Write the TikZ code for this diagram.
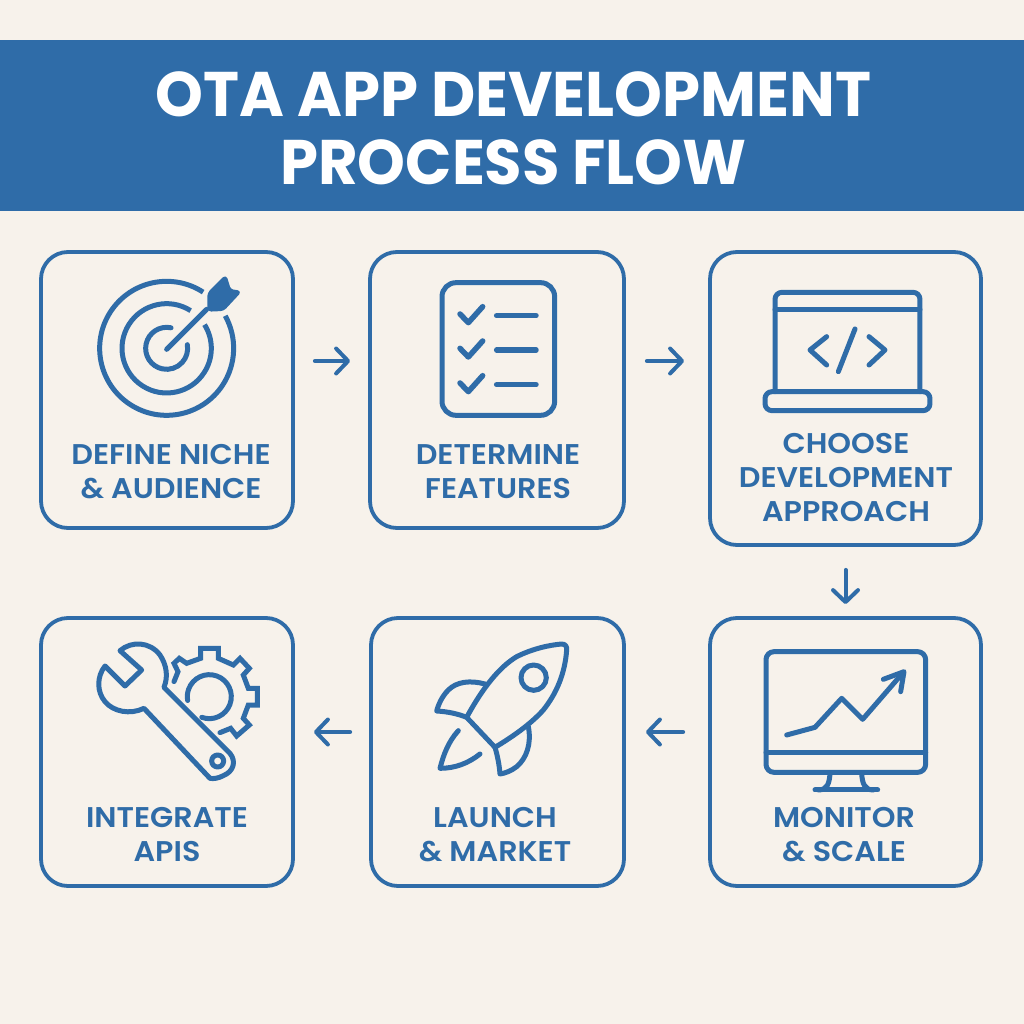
\documentclass[tikz,border=0pt]{standalone}
\usepackage{fontspec}
\setmainfont{Poppins}
\newfontfamily\labelfont[FakeStretch=1.06]{Poppins SemiBold}
\newfontfamily\titlefont[FakeStretch=0.966]{Poppins}
\usetikzlibrary{arrows.meta}
\definecolor{bandblue}{HTML}{2F6CA8}
\definecolor{paper}{HTML}{F7F2EB}
\tikzset{
	stepbox/.style={draw=bandblue, line width=3.8pt, rounded corners=27pt, inner sep=0pt},
	steplabel/.style={text=bandblue, font=\fontsize{28.5}{34}\labelfont, align=center, inner sep=0pt},
	flowarrow/.style={draw=bandblue, line width=4pt, line cap=round, -{Straight Barb[length=12pt,width=25pt,line width=4pt,round]}},
	iconline/.style={draw=bandblue, line width=5pt, line cap=round, line join=round},
	iconzoom/.style={x=0.3333pt, y=-0.3333pt},
}
\begin{document}
\begin{tikzpicture}[x=1pt, y=-1pt]
	\useasboundingbox (0,0) rectangle (1024,1024);
	\fill[paper] (0,0) rectangle (1024,1024);
	\fill[bandblue] (0,40) rectangle (1024,211);
	\node (title) at (513.5,128) [text=white, font=\fontsize{63}{68}\titlefont\bfseries, align=center, inner sep=0pt] {OTA APP DEVELOPMENT\\PROCESS FLOW};

	% boxes
	\node (niche) at (167,390) [stepbox, minimum width=252pt, minimum height=276pt] {};
	\node (features) at (497,390) [stepbox, minimum width=254pt, minimum height=276pt] {};
	\node (approach) at (845.5,398.5) [stepbox, minimum width=271pt, minimum height=293pt] {};
	\node (monitor) at (845.5,752) [stepbox, minimum width=271pt, minimum height=268pt] {};
	\node (launch) at (497.5,752) [stepbox, minimum width=253pt, minimum height=268pt] {};
	\node (apis) at (167,752) [stepbox, minimum width=252pt, minimum height=268pt] {};

	% labels
	\node (nichetext) at (171,472) [steplabel] {DEFINE NICHE\\\& AUDIENCE};
	\node (featurestext) at (498,472) [steplabel] {DETERMINE\\FEATURES};
	\node (approachtext) at (846,478) [steplabel] {CHOOSE\\DEVELOPMENT\\APPROACH};
	\node (monitortext) at (844,835) [steplabel] {MONITOR\\\& SCALE};
	\node (launchtext) at (495,835) [steplabel] {LAUNCH\\\& MARKET};
	\node (apistext) at (167,835) [steplabel] {INTEGRATE\\APIS};

	% arrows
	\draw[flowarrow, shorten <=20pt, shorten >=18pt] ([yshift=29pt]niche.east) -- ([yshift=29pt]features.west);
	\draw[flowarrow, shorten <=21pt, shorten >=24pt] ([yshift=29pt]features.east) -- ([yshift=29pt]features.east -| approach.west);
	\draw[flowarrow, shorten <=23pt, shorten >=12pt] (approach.south) -- (monitor.north);
	\draw[flowarrow, shorten <=25pt, shorten >=20pt] ([yshift=20pt]monitor.west) -- ([yshift=20pt]launch.east);
	\draw[flowarrow, shorten <=19pt, shorten >=19pt] ([yshift=20pt]launch.west) -- ([yshift=20pt]apis.east);

	% target
	\begin{scope}[shift={(60,260)}, iconzoom]
		\draw[iconline, line cap=butt] (320,265) ++(-57:201) arc[start angle=-57, end angle=-389, radius=201];
		\draw[iconline, line cap=butt] (320,265) ++(-57.5:134) arc[start angle=-57.5, end angle=-392, radius=134];
		\draw[iconline] (320,265) ++(-78:63) arc[start angle=-78, end angle=-370, radius=63];
		\draw[iconline] (320,268) -- (440,148);
		\fill[bandblue, draw=bandblue, line width=2pt, line join=round, rounded corners=3pt] (445,100) -- (497,48) -- (510,90) -- (541,95) -- (490,150) -- (445,152) -- cycle;
	\end{scope}

	% checklist
	\begin{scope}[shift={(430,270)}, iconzoom]
		\draw[iconline, rounded corners=14pt] (36,38) rectangle (374,436);
		\foreach \rowy in {137,240,344}{
			\draw[iconline, line width=5.5pt] (90,\rowy-5) -- (115,\rowy+21) -- (158,\rowy-27);
			\draw[iconline, line width=5.5pt] (200,\rowy) -- (318,\rowy);
		}
	\end{scope}

	% laptop
	\begin{scope}[shift={(750,280)}, iconzoom]
		\draw[iconline, rounded corners=7pt] (75,335) -- (75,37) -- (510,37) -- (510,335);
		\draw[iconline] (75,90) -- (510,90);
		\draw[iconline, rounded corners=7pt] (45,335) -- (540,335) -- (540,392) -- (45,392) -- cycle;
		\draw[iconline] (230,170) -- (180,210) -- (230,255);
		\draw[iconline] (315,147) -- (265,275);
		\draw[iconline] (357,170) -- (405,210) -- (357,255);
	\end{scope}

	% monitor
	\begin{scope}[shift={(750,640)}, iconzoom]
		\draw[iconline, rounded corners=8pt] (48,35) rectangle (527,397);
		\draw[iconline] (48,337) -- (527,337);
		\draw[iconline] (110,285) -- (195,262) -- (275,175) -- (338,238) -- (460,97);
		\draw[iconline] (400,118) -- (462,95) -- (452,155);
		\draw[iconline] (240,400) .. controls (238,430) and (232,450) .. (205,450);
		\draw[iconline] (335,400) .. controls (337,430) and (343,450) .. (370,450);
		\draw[iconline] (195,450) -- (383,450);
	\end{scope}

	% rocket
	\begin{scope}[shift={(420,630)}, iconzoom]
		\draw[iconline] (225,352) -- (140,262) .. controls (190,170) and (240,110) .. (290,80) .. controls (340,55) and (390,45) .. (425,42) .. controls (437,42) and (441,50) .. (440,60) .. controls (435,130) and (410,190) .. (370,240) .. controls (330,285) and (270,325) .. (225,352);
		\draw[iconline] (341,143) circle[radius=38];
		\draw[iconline] (195,162) .. controls (150,150) and (110,155) .. (85,180) .. controls (65,200) and (55,225) .. (50,243) .. controls (85,245) and (115,252) .. (140,262);
		\draw[iconline] (325,290) .. controls (335,340) and (320,385) .. (290,410) .. controls (275,422) and (255,430) .. (240,432) .. controls (238,405) and (232,375) .. (225,352);
		\draw[iconline] (115,302) .. controls (85,335) and (70,375) .. (60,415) .. controls (105,415) and (145,400) .. (180,372);
	\end{scope}

	% wrench and gear
	\begin{scope}[shift={(70,630)}, iconzoom]
		\draw[iconline] (150,62) .. controls (185,32) and (240,35) .. (270,75) .. controls (290,105) and (295,140) .. (282,172) -- (480,370) .. controls (500,395) and (490,425) .. (460,437) .. controls (445,445) and (430,447) .. (420,445) -- (222,235) .. controls (180,255) and (130,245) .. (105,215) .. controls (80,185) and (80,140) .. (105,108) -- (165,168) -- (215,120) -- cycle;
		\draw[iconline] (443,393) circle[radius=18];
		\draw[iconline, line join=miter] (312,155) -- (324,125) -- (312,100) -- (328,85) -- (350,100) -- (392,85) -- (392,55) -- (445,55) -- (445,85) -- (490,105) -- (510,85) -- (538,115) -- (520,135) -- (535,175) -- (562,175) -- (562,225) -- (535,225) -- (520,265) -- (538,285) -- (500,318) -- (482,295) -- (450,308);
		\draw[iconline] (418,200) ++(-250:66) arc[start angle=-250, end angle=-550, radius=66];
	\end{scope}
\end{tikzpicture}
\end{document}
